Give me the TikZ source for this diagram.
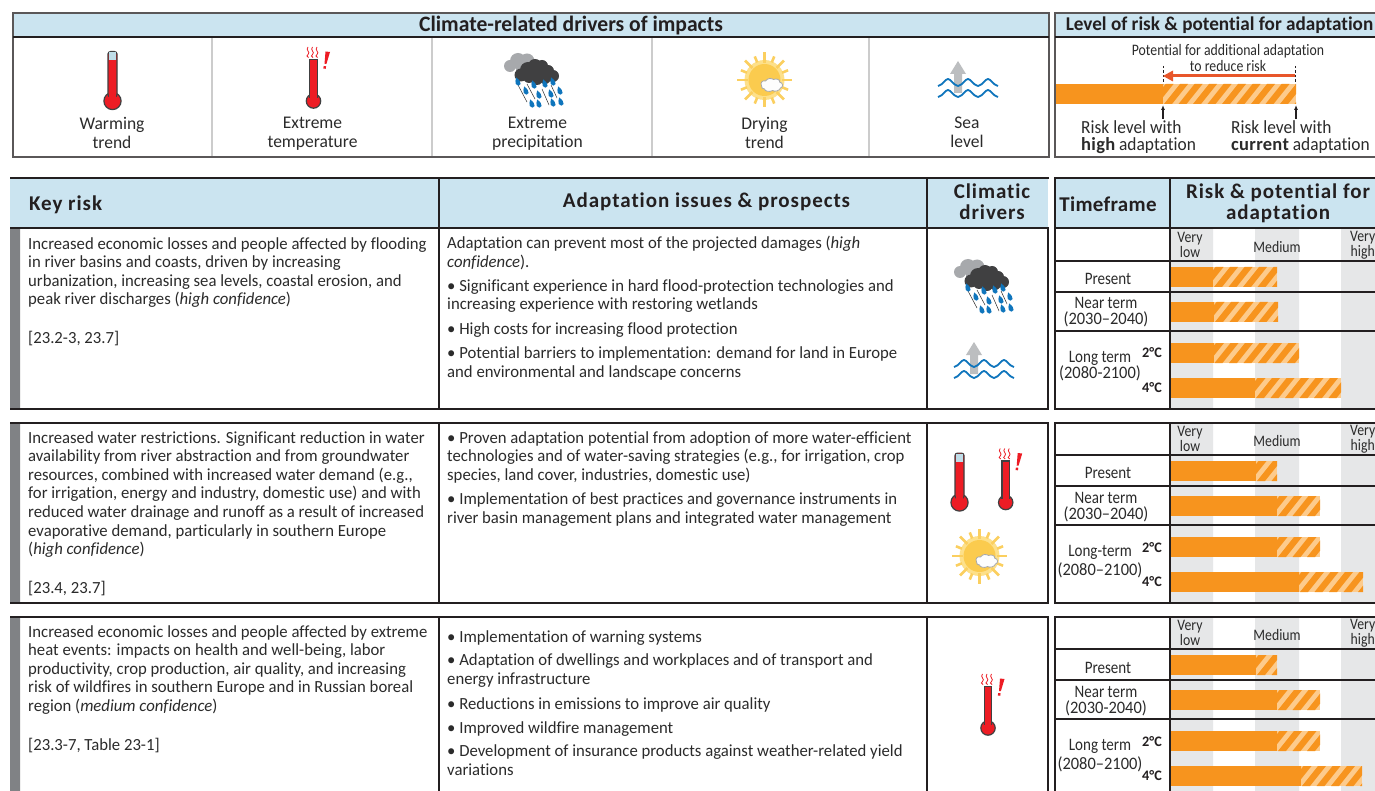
\documentclass[tikz,border=0pt]{standalone}
\usepackage{fontspec}
\usetikzlibrary{arrows.meta}
\setmainfont[FakeStretch=0.983,Ligatures=NoCommon]{Carlito}
\newfontfamily\hdfont[LetterSpace=4.5,Ligatures=NoCommon]{Carlito}
\newfontfamily\hdfontB[LetterSpace=1.5,Ligatures=NoCommon]{Carlito}
\newfontfamily\narrowf[FakeStretch=0.86,Ligatures=NoCommon]{Carlito}
\newfontfamily\legf[FakeStretch=0.94,Ligatures=NoCommon]{Carlito}
\definecolor{hdblue}{HTML}{CBE4F0}
\definecolor{ink}{HTML}{231F20}
\definecolor{riskor}{HTML}{F7941E}
\definecolor{risklt}{HTML}{FDCB8C}
\definecolor{bandgr}{HTML}{E6E7E8}
\definecolor{sepgr}{HTML}{CCCCCC}
\definecolor{txgr}{HTML}{2B2B2B}
\definecolor{thred}{HTML}{ED1C24}
\definecolor{thblue}{HTML}{BFDDE8}
\definecolor{cldark}{HTML}{404041}
\definecolor{clgrey}{HTML}{A7A9AC}
\definecolor{dropbl}{HTML}{0F75BC}
\definecolor{arrgr}{HTML}{BCBEC0}
\definecolor{sunray}{HTML}{FBCF5F}
\definecolor{sunout}{HTML}{FDE08A}
\definecolor{sunin}{HTML}{FBCB4E}
\definecolor{arrred}{HTML}{E8562A}
\definecolor{stripgr}{HTML}{808285}
\tikzset{
  x=1pt,y=-1pt,
  rule/.style={ink,line width=2pt},
  sepline/.style={sepgr,line width=1.5pt},
  bodytxt/.style={anchor=north west,inner sep=0pt,align=left,text=txgr,
    font=\fontsize{17}{18.65}\selectfont,execute at begin node={\vrule height 13pt width 0pt depth 0pt\relax}},
  tftxt/.style={inner sep=0pt,align=center,text=txgr,font=\fontsize{17.5}{16}\narrowf},
  icontxt/.style={anchor=north,inner sep=0pt,align=center,text=txgr,font=\fontsize{17.8}{19}\selectfont,
    execute at begin node={\vrule height 13pt width 0pt depth 0pt\relax}},
  scaletxt/.style={inner sep=0pt,align=center,text=txgr,font=\fontsize{16}{12.5}\narrowf},
  degtxt/.style={inner sep=0pt,text=ink,font=\fontsize{14.5}{14}\selectfont\bfseries},
  titletxt/.style={inner sep=0pt,text=ink,font=\fontsize{22}{22}\selectfont\bfseries},
  headtxt/.style={inner sep=0pt,align=center,text=ink,font=\fontsize{21}{21}\hdfont\bfseries},
  legtxt/.style={inner sep=0pt,align=left,text=txgr,font=\fontsize{18.5}{17}\legf},
}
\newcommand{\riskbar}[5]{%
  \fill[riskor] (#3,#1) rectangle (#4,#2);
  \begin{scope}
    \clip (#4,#1) rectangle (#5,#2);
    \fill[risklt] (#4,#1) rectangle (#5,#2);
    \foreach \i in {-1,...,11}{
      \fill[riskor] ({#4+\i*14.5+1},#2) -- ({#4+\i*14.5+9},#2) -- ({#4+\i*14.5+25},#1) -- ({#4+\i*14.5+17},#1) -- cycle;
    }
  \end{scope}}
\newcommand{\icoWarm}[2]{%
  \begin{scope}[shift={(#1,#2)}]
    \filldraw[fill=thred,draw=cldark,line width=1.2pt] (0,50) circle (8.6);
    \filldraw[fill=thred,draw=cldark,line width=1.2pt,rounded corners=2.5pt] (-4.5,.6) rectangle (4.5,46);
    \fill[thblue] (-3.9,1.2) rectangle (3.9,9);
    \fill[thred] (-3.9,9) rectangle (3.9,48);
  \end{scope}}
\newcommand{\icoHot}[2]{%
  \begin{scope}[shift={(#1,#2)}]
    \filldraw[fill=thred,draw=cldark,line width=1.2pt] (0,42) circle (7.2);
    \filldraw[fill=thred,draw=cldark,line width=1.2pt] (-3.7,.5) rectangle (3.7,38);
    \fill[thred] (-3.1,1) rectangle (3.1,40);
    \foreach \dx in {-5.5,-1,3.5}{
      \draw[thred,line width=.8pt] (\dx,-12) .. controls (\dx-3,-9) and (\dx+3,-7) .. (\dx,-4.5) .. controls (\dx-1.5,-3) .. (\dx+.5,-1.5);
    }
    \fill[thred] (12,-7.5) -- (16.5,-7) -- (12.9,5) -- (11,5) -- cycle;
    \fill[thred] (10.2,7) -- (12.6,7.3) -- (12.2,9.8) -- (9.8,9.5) -- cycle;
  \end{scope}}
\newcommand{\onedrop}[2]{\fill[dropbl,shift={(#1,#2)}] (-1.8,-4.5) .. controls (1,-2.5) and (3,0) .. (2.6,2) .. controls (2,4.2) and (-1,4.4) .. (-2.2,2) .. controls (-3,0) and (-2.5,-2) .. (-1.8,-4.5) -- cycle;}
\newcommand{\icoRain}[2]{%
  \begin{scope}[shift={(#1,#2)}]
    \foreach \cx/\cy/\cr in {6/13/6,14/8/8,23/8/7.5,27/12/5,18/16/6}{\fill[clgrey] (\cx,\cy) circle (\cr);}
    \foreach \cx/\cy/\cr in {17/22/6.5,24/17/8,31/13/7,38/13/6,44/18/6,49/23/6,25/24/6,33/26/6,41/25/6,35/20/8}{\fill[cldark] (\cx,\cy) circle (\cr);}
    \draw[txgr,line width=.5pt] (14,32) -- (23,49) (23,31) -- (31,46) (38,36) -- (45,52) (47,32) -- (53,45);
    \onedrop{14}{29}\onedrop{22}{38}\onedrop{30}{32}\onedrop{35}{42}\onedrop{41}{31}\onedrop{47}{41}\onedrop{49}{29}\onedrop{56}{38}\onedrop{28}{51}\onedrop{35}{51}\onedrop{49}{50}\onedrop{57}{49}
  \end{scope}}
\newcommand{\icoSun}[2]{%
  \begin{scope}[shift={(#1,#2)}]
    \fill[sunout] (0,0) circle (20);
    \fill[sunin] (0,0) circle (16);
    \foreach \a in {0,45,...,315}{\draw[sunray,line width=2.6pt] (\a:17) -- (\a:27.5);}
    \foreach \a in {22.5,67.5,...,337.5}{\draw[sunray,line width=2.6pt] (\a:19) -- (\a:25.5);}
    \fill[white!92!bandgr,draw=clgrey,line width=.8pt,shift={(7,5)}] (-10,1) .. controls (-12,-3) and (-8,-5) .. (-6,-4) .. controls (-4,-7) and (0,-7) .. (2,-5.5) .. controls (5,-7) and (9,-5) .. (8,-3) .. controls (12,-2) and (12,2) .. (9,3) .. controls (8,6) and (3,7) .. (1,5.5) .. controls (-2,7.5) and (-7,6) .. (-7,4) .. controls (-9,4) and (-10,3) .. (-10,1) -- cycle;
  \end{scope}}
\newcommand{\onewave}[1]{\draw[dropbl,line width=1.8pt] (0,#1+7) .. controls (5,#1+6) and (7,#1) .. (10,#1) .. controls (13,#1) and (15,#1+6) .. (20,#1+7) .. controls (25,#1+6) and (27,#1) .. (30,#1) .. controls (33,#1) and (35,#1+6) .. (40,#1+7) .. controls (45,#1+6) and (47,#1) .. (50,#1) .. controls (53,#1) and (55,#1+6) .. (60,#1+7);}
\newcommand{\icoSea}[2]{%
  \begin{scope}[shift={(#1,#2)}]
    \fill[arrgr] (20,0) -- (28,13) -- (24,13) -- (24,32) -- (16,32) -- (16,13) -- (12,13) -- cycle;
    \onewave{18}\onewave{29}
  \end{scope}}
\newcommand{\bands}[2]{%
  \fill[bandgr] (1171,#1) rectangle (1213,#2) (1255,#1) rectangle (1299,#2) (1341,#1) rectangle (1375,#2);}
\begin{document}
\begin{tikzpicture}
\clip (0,0) rectangle (1375,791);
\fill[white] (0,0) rectangle (1375,791);
% --- top left panel
\fill[hdblue] (13,13) rectangle (1049,37);
\fill[hdblue] (1055,13) rectangle (1375,37);
\draw[sepline] (212,38) -- (212,157) (432,38) -- (432,157) (652,38) -- (652,157) (869,38) -- (869,157);
\draw[ink!75,line width=1.3pt] (13,13) rectangle (1049,157);
\draw[ink!75,line width=1.3pt] (1380,13) -- (1055,13) -- (1055,157) -- (1380,157);
\draw[rule] (13,37) -- (1049,37) (1055,37) -- (1375,37);
\node[titletxt] (ttlA) at (571,26) {Climate-related drivers of impacts};
\node[titletxt,font=\fontsize{19.5}{20}\selectfont\bfseries] (ttlB) at (1219.5,25) {Level of risk \& potential for adaptation};
\icoWarm{112.5}{51}
\icoHot{313.5}{59}
\icoRain{504}{53}
\icoSun{764.5}{80}
\icoSea{938}{61}
\node[icontxt] (lbA) at (112,117) {Warming\\trend};
\node[icontxt] (lbB) at (312.5,117) {Extreme\\temperature};
\node[icontxt] (lbC) at (537.5,117) {Extreme\\precipitation};
\node[icontxt] (lbD) at (764.5,117) {Drying\\trend};
\node[icontxt] (lbE) at (967,117) {Sea\\level};
% --- legend
\node[inner sep=0pt,align=center,text=txgr,font=\fontsize{16}{16}\narrowf] (potl) at (1228,58) {Potential for additional adaptation\\to reduce risk};
\riskbar{84}{104}{1056}{1163}{1296}
\draw[ink,line width=1pt,dash pattern=on 2.5pt off 2pt] (1163,66) -- (1163,84) (1295,66) -- (1295,84);
\draw[arrred,line width=3pt] (1295,76) -- (1172,76);
\fill[arrred] (1163,76) -- (1173,70.5) -- (1173,81.5) -- cycle;
\draw[ink,line width=1.1pt,-{Latex[length=5pt,width=4pt]}] (1163,119) -- (1163,105);
\draw[ink,line width=1.1pt,-{Latex[length=5pt,width=4pt]}] (1296,119) -- (1296,105);
\node[legtxt,anchor=west] (lvA) at (1081,137) {Risk level with\\{\hdfontB\bfseries high} adaptation};
\node[legtxt,anchor=west] (lvB) at (1231,137) {Risk level with\\{\hdfontB\bfseries current} adaptation};
% --- table headers
\fill[hdblue] (10,178) rectangle (1048,228);
\fill[hdblue] (1055,178) rectangle (1375,228);
\draw[rule] (10,178) -- (1049,178) (1054,178) -- (1375,178);
\node[headtxt,anchor=west] (hKey) at (29,205) {Key risk};
\node[headtxt] (hAd) at (706.5,202) {Adaptation issues \& prospects};
\node[headtxt] (hCl) at (992,201.5) {Climatic\\drivers};
\node[headtxt,font=\fontsize{21}{21}\hdfontB\bfseries] (hTf) at (1108,204) {Timeframe};
\node[headtxt] (hRp) at (1278,203.5) {Risk \& potential for\\adaptation};
% --- row backgrounds
\fill[stripgr] (10,229) rectangle (20,409) (10,423) rectangle (20,603) (10,617) rectangle (20,791);
\bands{229}{409}
\bands{423}{603}
\bands{617}{791}
% --- bars
\riskbar{267}{287}{1171}{1213}{1277}
\riskbar{302}{322}{1171}{1214}{1278}
\riskbar{343}{363}{1171}{1213.5}{1299}
\riskbar{378}{398}{1171}{1255}{1341}
\riskbar{461}{481}{1171}{1256}{1277}
\riskbar{496}{516}{1171}{1277}{1320}
\riskbar{537}{557}{1171}{1277}{1320}
\riskbar{572}{592}{1171}{1299}{1363}
\riskbar{655}{675}{1171}{1256}{1277}
\riskbar{690}{710}{1171}{1277}{1320}
\riskbar{731}{751}{1171}{1277}{1320}
\riskbar{766}{786}{1171}{1301}{1362}
% --- rules
\draw[rule] (10,228.5) -- (1049,228.5) (1054,228.5) -- (1375,228.5);
\draw[rule] (10,409) -- (1049,409) (1054,409) -- (1375,409);
\draw[rule] (10,423) -- (1049,423) (1054,423) -- (1375,423);
\draw[rule] (10,603) -- (1049,603) (1054,603) -- (1375,603);
\draw[rule] (10,617) -- (1049,617) (1054,617) -- (1375,617);
\draw[rule] (439,178) -- (439,409) (927,178) -- (927,409) (1048,228) -- (1048,409) (1055,178) -- (1055,409) (1170,178) -- (1170,409);
\draw[rule] (439,423) -- (439,603) (927,423) -- (927,603) (1048,423) -- (1048,603) (1055,423) -- (1055,603) (1170,423) -- (1170,603);
\draw[rule] (439,617) -- (439,791) (927,617) -- (927,791) (1048,617) -- (1048,791) (1055,617) -- (1055,791) (1170,617) -- (1170,791);
\draw[rule] (1055,261) -- (1375,261) (1055,292) -- (1375,292) (1055,331) -- (1375,331);
\draw[rule] (1055,455) -- (1375,455) (1055,486) -- (1375,486) (1055,525) -- (1375,525);
\draw[rule] (1055,649) -- (1375,649) (1055,680) -- (1375,680) (1055,719) -- (1375,719);
% --- row 1 text
\node[bodytxt] (kA) at (28,237) {Increased economic losses and people affected by flooding\\in river basins and coasts, driven by increasing\\urbanization,  increasing sea levels, coastal erosion, and\\peak river discharges (\textit{high confidence})};
\node[bodytxt] (kAr) at (28,330) {[23.2-3, 23.7]};
\node[bodytxt] (aAa) at (447,236) {Adaptation can prevent most of the projected damages (\textit{high}\\\textit{confidence}).};
\node[bodytxt] (aAb) at (447,279) {• Significant experience in hard flood-protection technologies and\\increasing experience with restoring wetlands};
\node[bodytxt] (aAc) at (447,321) {• High costs for increasing flood protection};
\node[bodytxt] (aAd) at (447,346.5) {• Potential barriers to implementation: demand for land in Europe\\and environmental and landscape concerns};
\icoRain{954}{259}
\icoSea{954}{342}
% --- row 2 text
\node[bodytxt] (kB) at (28,431) {Increased water restrictions. Significant reduction in water\\availability from river abstraction and from groundwater\\resources, combined with increased water demand (e.g.,\\for irrigation, energy and industry, domestic use) and with\\reduced water drainage and runoff as a result of increased\\evaporative demand, particularly in southern Europe\\(\textit{high confidence})};
\node[bodytxt] (kBr) at (28,580) {[23.4, 23.7]};
\node[bodytxt] (aBa) at (447,431) {• Proven adaptation potential from adoption of more water-efficient\\technologies and of water-saving strategies (e.g., for irrigation, crop\\species, land cover, industries, domestic use)};
\node[bodytxt] (aBb) at (447,492.5) {• Implementation of best practices and governance instruments in\\river basin management plans and integrated water management};
\icoWarm{959.5}{452.5}
\icoHot{1005.7}{460.5}
\icoSun{979.5}{556}
% --- row 3 text
\node[bodytxt] (kC) at (28,625) {Increased economic losses and people affected by extreme\\heat events: impacts on health and well-being, labor\\productivity, crop production, air quality, and increasing\\risk of wildfires in southern Europe and in Russian boreal\\region (\textit{medium confidence})};
\node[bodytxt] (kCr) at (28,737) {[23.3-7, Table 23-1]};
\node[bodytxt] (aCa) at (447,629) {• Implementation of warning systems};
\node[bodytxt] (aCb) at (447,653.5) {• Adaptation of dwellings and workplaces and of transport and\\energy infrastructure};
\node[bodytxt] (aCc) at (447,696) {• Reductions in emissions to improve air quality};
\node[bodytxt] (aCd) at (447,720) {• Improved wildfire management};
\node[bodytxt] (aCe) at (447,744.5) {• Development of insurance products against weather-related yield\\variations};
\icoHot{988}{686}
% --- timeframe row 1
\node[scaletxt] (vlA) at (1190,245) {Very\\low};
\node[scaletxt] (mdA) at (1277,247) {Medium};
\node[scaletxt,anchor=west] (vhA) at (1350,245) {Very\\high};
\node[tftxt] (pA) at (1108,278.5) {Present};
\node[tftxt] (nA) at (1106,312.5) {Near term\\{\legf (2030–2040)}};
\node[tftxt] (lA) at (1100,366) {Long term\\{\legf (2080-2100)}};
\node[degtxt] (dA) at (1152,353) {2°C};
\node[degtxt] (eA) at (1152,388) {4°C};
% --- timeframe row 2
\node[scaletxt] (vlB) at (1190,439) {Very\\low};
\node[scaletxt] (mdB) at (1277,441) {Medium};
\node[scaletxt,anchor=west] (vhB) at (1350,439) {Very\\high};
\node[tftxt] (pB) at (1108,472.5) {Present};
\node[tftxt] (nB) at (1106,507.5) {Near term\\{\legf (2030–2040)}};
\node[tftxt,font=\fontsize{17.5}{19}\narrowf] (lB) at (1100,561.5) {Long-term\\{\legf (2080–2100)}};
\node[degtxt] (dB) at (1152,548) {2°C};
\node[degtxt] (eB) at (1152,582) {4°C};
% --- timeframe row 3
\node[scaletxt] (vlC) at (1190,633) {Very\\low};
\node[scaletxt] (mdC) at (1277,635) {Medium};
\node[scaletxt,anchor=west] (vhC) at (1350,633) {Very\\high};
\node[tftxt] (pC) at (1108,667.5) {Present};
\node[tftxt] (nC) at (1106,701) {Near term\\{\legf (2030-2040)}};
\node[tftxt,font=\fontsize{17.5}{19}\narrowf] (lC) at (1100,755.5) {Long term\\{\legf (2080–2100)}};
\node[degtxt] (dC) at (1152,742) {2°C};
\node[degtxt] (eC) at (1152,776) {4°C};
\end{tikzpicture}
\end{document}
